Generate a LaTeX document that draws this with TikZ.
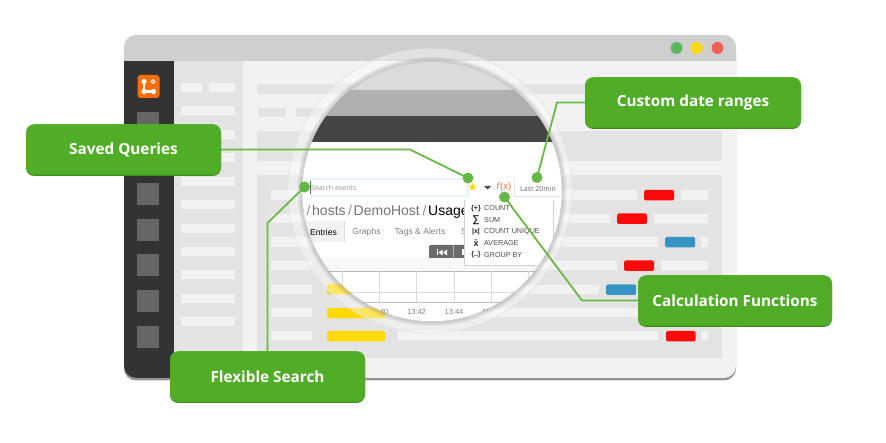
\documentclass[tikz,border=0pt]{standalone}
\usepackage{fontspec}
\usetikzlibrary{shapes.geometric}
\setmainfont{Open Sans}
\newfontfamily\uifont{Liberation Sans}
\definecolor{calloutgreen}{HTML}{52AE28}
\definecolor{calloutedge}{HTML}{3F8F1C}
\definecolor{linegreen}{HTML}{69B944}
\definecolor{dotgreen}{HTML}{65B846}
\definecolor{panelgray}{HTML}{E3E3E3}
\definecolor{pagelight}{HTML}{F2F2F2}
\definecolor{titlegray}{HTML}{CFCFCF}
\definecolor{sidedark}{HTML}{333333}
\definecolor{sidesq}{HTML}{666666}
\definecolor{barred}{HTML}{FF0A0A}
\definecolor{barblue}{HTML}{3793C3}
\definecolor{baryellow}{HTML}{FFD800}
\definecolor{uigray}{HTML}{808080}
\definecolor{fxorange}{HTML}{F07A3C}
\definecolor{tlredc}{HTML}{F0604F}
\definecolor{tlgreenc}{HTML}{5CB85C}
\tikzset{
  strip/.style={fill=pagelight,draw=none},
  pblock/.style={fill=panelgray,draw=none},
  bar/.style={draw=none,rounded corners=1.5pt},
  sq/.style={fill=sidesq,draw=none},
  callout/.style={rectangle,rounded corners=8pt,fill=calloutgreen,fill opacity=.96,text opacity=1,
     draw=none,text=white,font=\bfseries\fontsize{15.3}{17}\selectfont,minimum height=50.5pt,inner sep=0pt,
     preaction={fill=calloutedge,fill opacity=1,transform canvas={yshift=-1.2pt}}},
  pin/.style={circle,fill=dotgreen,draw=none,minimum size=11pt,inner sep=0pt},
  link/.style={draw=linegreen,line width=1.8pt,line join=miter},
  uitxt/.style={font=\fontsize{7}{8}\selectfont,text=uigray,inner sep=0pt},
  tabtxt/.style={font=\uifont\fontsize{8.6}{10}\selectfont,text=uigray,inner sep=0pt},
  timetxt/.style={font=\uifont\fontsize{7.5}{8}\selectfont,text=uigray,inner sep=0pt},
  crumbtxt/.style={font=\uifont\fontsize{14}{16}\selectfont,inner sep=0pt,anchor=base west,text=black!55},
  menutxt/.style={font=\uifont\fontsize{7.2}{8}\selectfont,text=black!70,inner sep=0pt,anchor=west},
  menuico/.style={font=\uifont\bfseries\fontsize{7}{8}\selectfont,text=black!85,inner sep=0pt},
  gridline/.style={draw=black!14,line width=.5pt}
}
\begin{document}
\begin{tikzpicture}[x=1pt,y=-1pt]
\useasboundingbox (0,0) rectangle (886,443);
\fill[white] (0,0) rectangle (886,443);
% window
\fill[black!42,rounded corners=12pt] (124,40) rectangle (736,380.5);
\begin{scope}
\clip[rounded corners=12pt] (124,35) rectangle (736,378);
\fill[pagelight] (124,35) rectangle (736,378);
\fill[titlegray] (124,35) rectangle (736,61.5);
\fill[sidedark] (124,61.5) rectangle (174,378);
\fill[pblock] (174,61.5) rectangle (243,378);
\end{scope}
\node[circle,fill=tlgreenc,minimum size=12pt,inner sep=0pt] (tlgreen) at (676.5,48) {};
\node[circle,fill=baryellow,minimum size=12pt,inner sep=0pt] (tlyellow) at (696.5,48) {};
\node[circle,fill=tlredc,minimum size=12pt,inner sep=0pt] (tlred) at (717.5,48) {};
% logo
\fill[orange!85!red,rounded corners=3pt] (137.5,75) rectangle (159.5,98);
\draw[white,line width=2.6pt,line cap=round] (144,81.5) -- (144,91.5) -- (153.5,91.5);
\fill[white] (144,81.5) circle (2.6) (144,91.5) circle (2.6) (153.5,91.5) circle (2.6);
\draw[white,line width=1pt] (153,81.5) circle (1.9);
% sidebar squares
\foreach \y in {112,148,183,219,254,290,326} \fill[sq] (137,\y) rectangle (159,\y+22);
% left panel strips
\fill[strip] (181,83) rectangle (202,92) (209,83) rectangle (235,92);
\foreach \y in {106,130,153,177,200,224,247,270,294,317} \fill[strip] (181,\y) rectangle (235,\y+9.5);
% main blocks
\fill[pblock] (257,84) rectangle (722,94);
\fill[pblock] (258,108) rectangle (286,117) (296,108) rectangle (323,117);
\fill[pblock] (257,131) rectangle (722,161);
\fill[pblock] (257,175) rectangle (722,358);
% rows
\foreach \y/\e in {190.5/637,214/610,237.5/658} \fill[strip] (271,\y) rectangle (\e,\y+9.5);
\foreach \y in {261,285,308,331} \fill[strip] (271,\y) rectangle (312,\y+9.5);
\fill[strip] (327,261) rectangle (617,270.5);
\fill[strip] (392,285) rectangle (599,294.5);
\fill[strip] (681,190.5) rectangle (708,200) (654,214) rectangle (708,223.5) (701,237.5) rectangle (708,247) (661,261) rectangle (708,270.5) (643,285) rectangle (708,294.5);
\fill[strip] (392,308) rectangle (673,317.5);
\fill[strip] (398,331) rectangle (658,340.5) (702,331) rectangle (708,340.5);
% bars
\fill[bar,barred] (644,190) rectangle (674,200.5);
\fill[bar,barred] (617,213.5) rectangle (647,224);
\fill[bar,barblue] (665,237) rectangle (695,247.5);
\fill[bar,barred] (624,260.5) rectangle (654,271);
\fill[bar,barblue] (606,284.5) rectangle (636,295);
\fill[bar,barred] (678,308) rectangle (708,318);
\fill[bar,barred] (666,331) rectangle (695.5,341.5);
\fill[bar,baryellow] (327,284) rectangle (385,294.5);
\fill[bar,baryellow] (327,308) rectangle (385,318.5);
\fill[bar,baryellow] (327,331) rectangle (385,341.5);
% magnifier ring
\fill[white,opacity=.38] (430,191) circle (142);
\draw[black!10,line width=.8pt] (430,191) circle (142);
\foreach \r/\o in {134/.05,133/.08,132/.11,131/.15} \draw[black,opacity=\o,line width=1pt] (432,191.5) circle (\r);
% lens content
\begin{scope}
\clip (432,191.5) circle (130);
\fill[white] (290,50) rectangle (575,330);
\fill[black!14] (290,50) rectangle (575,90);
\fill[black!31] (290,90) rectangle (575,116);
\fill[black!73] (290,116) rectangle (575,142);
% search bar
\draw[blue!45!cyan!25,fill=white,line width=.9pt,rounded corners=1pt] (311,179) rectangle (468,196);
\draw[black!60,line width=.6pt] (310.5,181) -- (310.5,194);
\node[uitxt,anchor=west,text=black!42] (searchlbl) at (311,188) {Search events};
\node[star,star points=5,star point ratio=2.3,fill=baryellow,draw=none,minimum size=8.5pt,inner sep=0pt] (starmark) at (472.5,187) {};
\fill[black!70] (484,186) -- (491,186) -- (487.5,189.5) -- cycle;
\node[font=\uifont\fontsize{9.5}{10}\selectfont,text=fxorange,inner sep=0pt] (fxlbl) at (504,187.5) {\textit{f}(x)};
\draw[black!10,line width=.7pt] (514,179) -- (514,196);
\draw[black!10,line width=.7pt] (514,196) -- (560,196);
\node[uitxt,text=black!60] (lastlbl) at (538,188.5) {Last 20min};
% breadcrumb
\node[crumbtxt,text=black!45] (slash1) at (306.5,216) {/};
\node[crumbtxt] (crumbhosts) at (312,216) {hosts};
\node[crumbtxt,text=black!45] (slash2) at (348,216) {/};
\node[crumbtxt] (crumbdemo) at (353.5,216) {DemoHost};
\node[crumbtxt,text=black!45] (slash3) at (422.5,216) {/};
\node[crumbtxt,text=black] (crumbusage) at (428,216) {Usage};
% tabs
\fill[black!5] (305,221) rectangle (344.5,242);
\draw[black!12,line width=.5pt] (344.5,221) -- (344.5,242);
\node[tabtxt,text=black] (tabentries) at (323.5,232) {Entries};
\node[tabtxt] (tabgraphs) at (366.5,232) {Graphs};
\node[tabtxt] (tabtags) at (420,232) {Tags \& Alerts};
\node[tabtxt] (tabs) at (464,232) {S};
% player buttons
\fill[black!58,rounded corners=2pt] (429,245) rectangle (480,260);
\draw[white!70!black,line width=.5pt] (453.5,245) -- (453.5,260);
\fill[white] (437,249.5) rectangle (438,255.5);
\fill[white] (442.5,249.5) -- (442.5,255.5) -- (438.5,252.5) -- cycle;
\fill[white] (447,249.5) -- (447,255.5) -- (443,252.5) -- cycle;
\fill[white] (462,249.5) rectangle (464,255.5);
% chart
\fill[black!3] (300,258) rectangle (565,271);
\draw[black!28,line width=.7pt] (300,271.5) -- (565,271.5);
\draw[black!26,line width=.7pt] (300,302) -- (565,302);
\draw[gridline] (300,292) -- (565,292);
\foreach \x in {342,379,416.5,454,491,528} \draw[gridline] (\x,271.5) -- (\x,302);
\node[timetxt] (t40) at (379,311.5) {13:40};
\node[timetxt] (t42) at (416.5,311.5) {13:42};
\node[timetxt] (t44) at (454,311.5) {13:44};
\node[timetxt] (t46) at (491.5,311.5) {13:46};
% dropdown
\fill[black!18] (464,200) rectangle (554,266);
\fill[white] (465,200) rectangle (553,265);
\node[menuico] (i1) at (476,208.5) {\{+\}};
\node[menuico,font=\uifont\bfseries\fontsize{10}{10}\selectfont] (i2) at (476,220) {∑};
\node[menuico] (i3) at (476,232) {|x|};
\node[menuico,font=\uifont\bfseries\fontsize{9}{9}\selectfont] (i4) at (476,243) {x̄};
\node[menuico] (i5) at (476,255) {\{..\}};
\node[menutxt] (m1) at (484,208.5) {COUNT};
\node[menutxt] (m2) at (484,220) {SUM};
\node[menutxt] (m3) at (484,232) {COUNT UNIQUE};
\node[menutxt] (m4) at (484,243.5) {AVERAGE};
\node[menutxt] (m5) at (484,255) {GROUP BY};
\end{scope}
\draw[black,opacity=.12,line width=1pt] (432,191.5) circle (130);
% callouts
\node[callout,minimum width=195pt] (saved) at (123.5,149.5) {Saved Queries};
\node[callout,minimum width=216pt] (custom) at (693,102.5) {Custom date ranges};
\node[callout,minimum width=194pt] (calc) at (735,300.5) {Calculation Functions};
\node[callout,minimum width=195pt] (flex) at (267.5,376.5) {Flexible Search};
% pins
\node[pin] (pinsaved) at (468,178) {};
\node[pin] (pincustom) at (537,177.5) {};
\node[pin] (pincalc) at (504.5,197) {};
\node[pin] (pinflex) at (304.5,187) {};
\coordinate (bendsaved) at (410,149.5);
\coordinate (bendcustom) at (557,102.5);
\coordinate (bendcalc) at (582,300.5);
\coordinate (bendflex) at (267.5,223);
% connectors
\draw[link] (saved.east) -- (bendsaved) -- (pinsaved.center);
\draw[link] (custom.west) -- (bendcustom) -- (pincustom.center);
\draw[link] (calc.west) -- (bendcalc) -- (pincalc.center);
\draw[link] (flex.north) -- (bendflex) -- (pinflex.center);
\end{tikzpicture}
\end{document}
